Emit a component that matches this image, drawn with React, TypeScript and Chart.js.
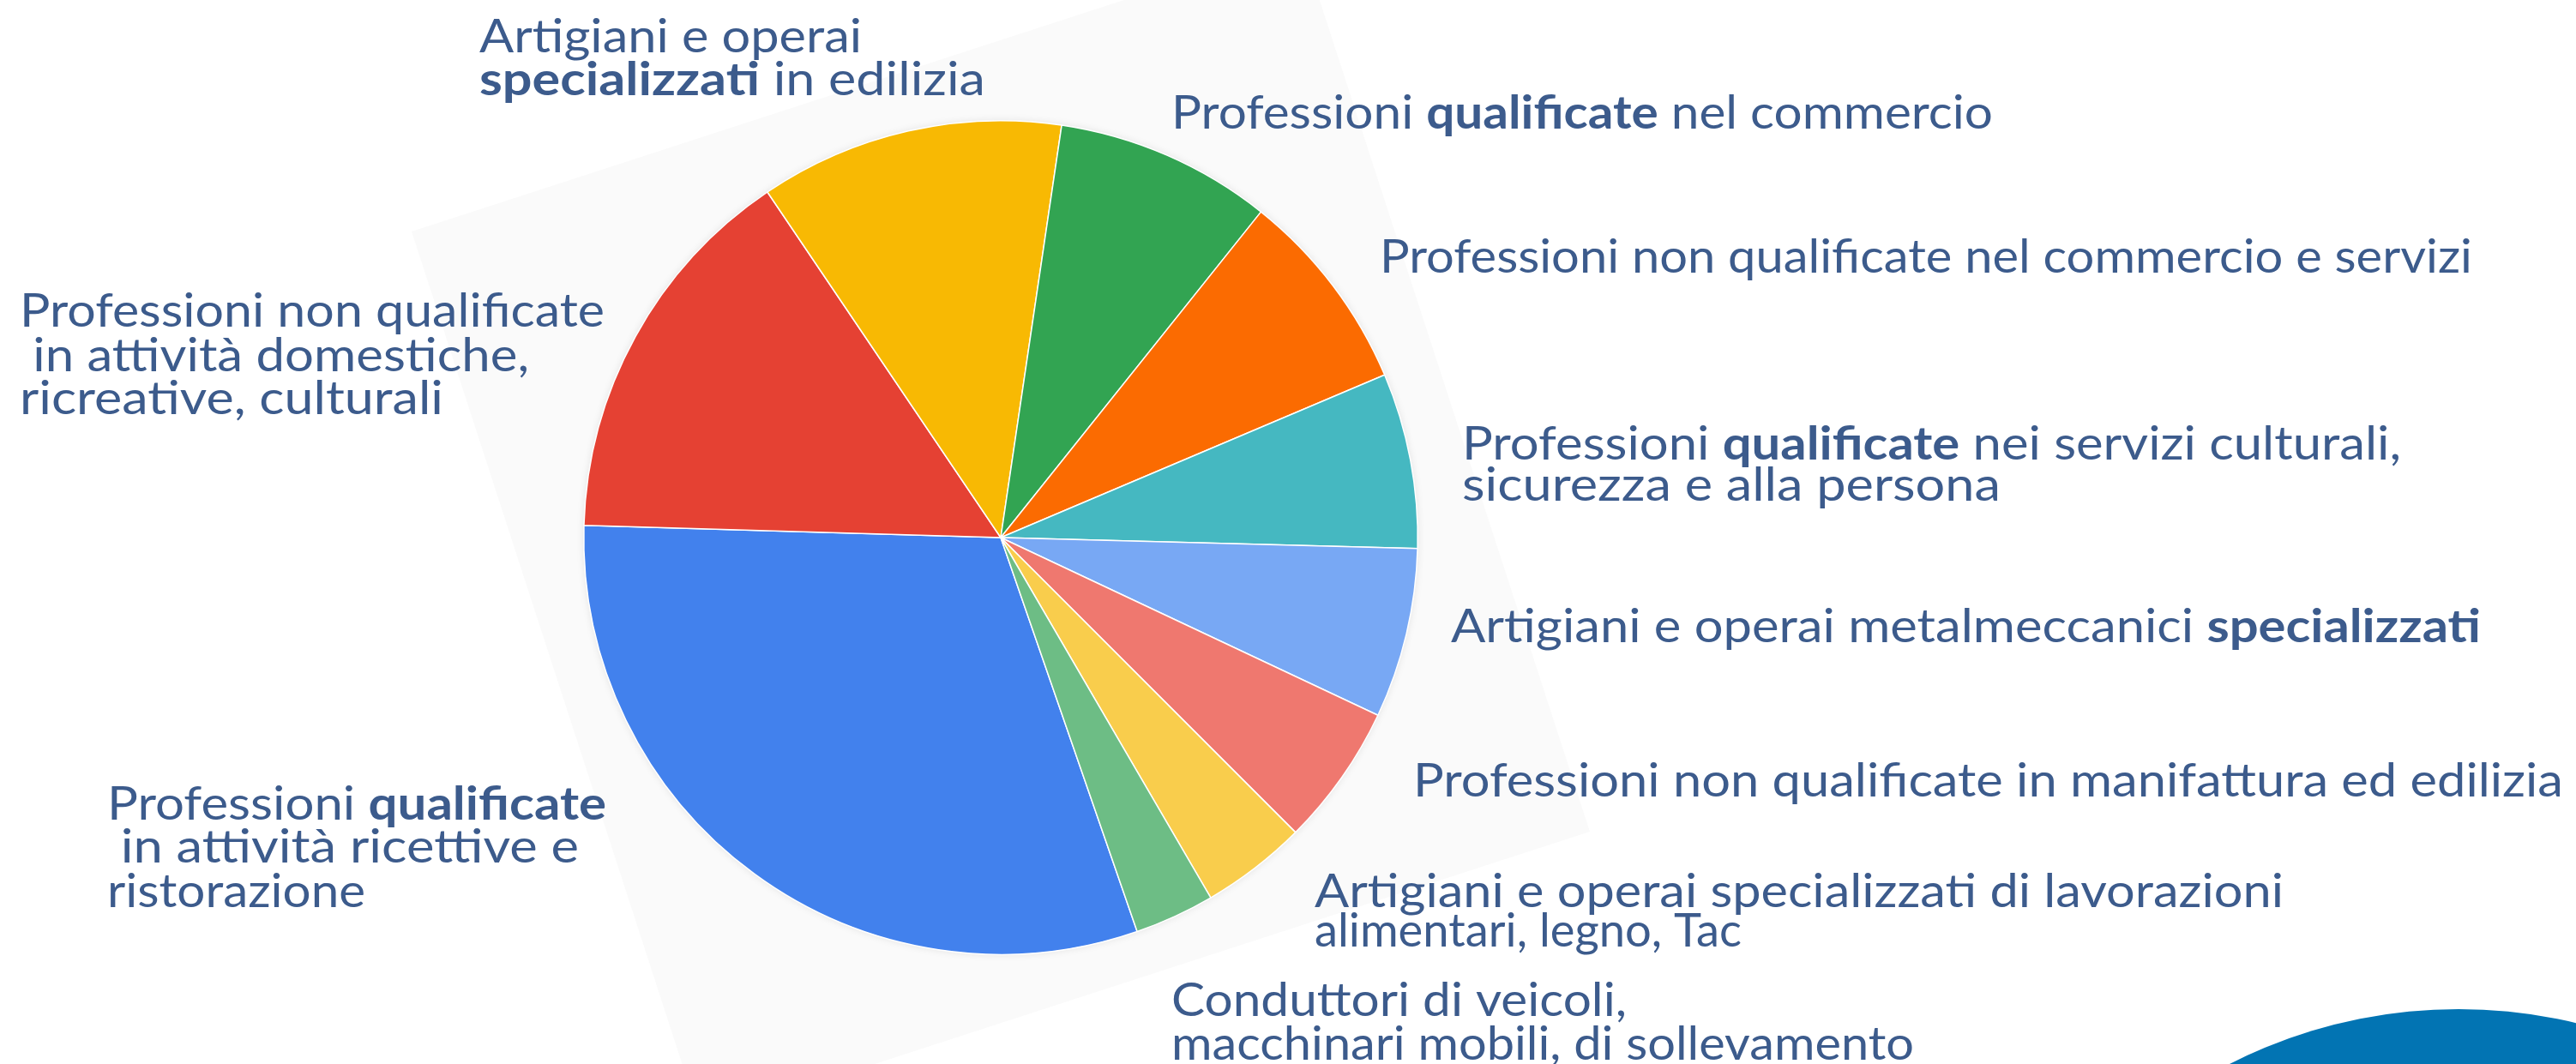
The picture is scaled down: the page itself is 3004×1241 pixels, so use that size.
import React, { useEffect, useRef } from "react";
import { Chart, registerables } from "chart.js";

Chart.register(...registerables);

// ---- data ----
const categories = [
  "Professioni qualificate in attività ricettive e ristorazione",
  "Professioni non qualificate in attività domestiche, ricreative, culturali",
  "Artigiani e operai specializzati in edilizia",
  "Professioni qualificate nel commercio",
  "Professioni non qualificate nel commercio e servizi",
  "Professioni qualificate nei servizi culturali, sicurezza e alla persona",
  "Artigiani e operai metalmeccanici specializzati",
  "Professioni non qualificate in manifattura ed edilizia",
  "Artigiani e operai specializzati di lavorazioni alimentari, legno, Tac",
  "Conduttori di veicoli, macchinari mobili, di sollevamento",
];

const values = [30.8, 15.1, 11.8, 8.4, 7.9, 6.8, 6.6, 5.5, 4.1, 3.1];

const sliceColors = [
  "#4281ED",
  "#E54133",
  "#F8B903",
  "#32A452",
  "#FB6B01",
  "#45B8C1",
  "#78A8F4",
  "#EF786F",
  "#F9CD4C",
  "#6DBD85",
];

// label text, one entry per category; **...** marks bold words
const labelLines: string[][] = [
  ["Professioni **qualificate**", " in attività ricettive e", "ristorazione"],
  ["Professioni non qualificate", " in attività domestiche,", "ricreative, culturali"],
  ["Artigiani e operai", "**specializzati** in edilizia"],
  ["Professioni **qualificate** nel commercio"],
  ["Professioni non qualificate nel commercio e servizi"],
  ["Professioni **qualificate** nei servizi culturali,", "sicurezza e alla persona"],
  ["Artigiani e operai metalmeccanici **specializzati**"],
  ["Professioni non qualificate in manifattura ed edilizia"],
  ["Artigiani e operai specializzati di lavorazioni", "alimentari, legno, Tac"],
  ["Conduttori di veicoli,", "macchinari mobili, di sollevamento"],
];

// ---- layout (page pixels) ----
const labelLayout = [
  { x: 125, baselines: [956, 1006, 1058], widths: [582, 550, 301] },
  { x: 23, baselines: [381, 433, 483], widths: [682, 594, 494] },
  { x: 559, baselines: [61, 111], widths: [446, 590] },
  { x: 1366, baselines: [150], widths: [958] },
  { x: 1609, baselines: [318], widths: [1274] },
  { x: 1705, baselines: [536, 584], widths: [1095, 628] },
  { x: 1692, baselines: [749], widths: [1201] },
  { x: 1648, baselines: [929], widths: [1341] },
  { x: 1533, baselines: [1058, 1104], widths: [1130, 498] },
  { x: 1366, baselines: [1185, 1236], widths: [531, 866] },
];

const W = 3004;
const H = 1241;
const TEXT_COLOR = "#3C5B8C";
const FONT_SIZE = 54;
const FONT_FAMILY = "Lato, 'Noto Sans', sans-serif";

function splitSegments(line: string): { text: string; bold: boolean }[] {
  const parts = line.split("**");
  return parts
    .map((t, i) => ({ text: t, bold: i % 2 === 1 }))
    .filter((s) => s.text.length > 0);
}

const backgroundPlugin = {
  id: "slideBackground",
  beforeDraw(chart: any) {
    const ctx = chart.ctx as CanvasRenderingContext2D;
    ctx.save();
    ctx.fillStyle = "#FFFFFF";
    ctx.fillRect(0, 0, W, H);
    // faint rotated panel behind the pie
    ctx.fillStyle = "#FAFAFA";
    ctx.beginPath();
    ctx.moveTo(480, 270);
    ctx.lineTo(1517, -67);
    ctx.lineTo(1854, 970);
    ctx.lineTo(817, 1307);
    ctx.closePath();
    ctx.fill();
    // blue decorative circle bottom-right
    ctx.fillStyle = "#0274B3";
    ctx.beginPath();
    ctx.arc(2867, 1766, 589, 0, Math.PI * 2);
    ctx.fill();
    ctx.restore();
  },
  beforeDatasetsDraw(chart: any) {
    // soft halo under the pie
    const meta = chart.getDatasetMeta(0);
    const arc = meta.data[0];
    if (!arc) return;
    const ctx = chart.ctx as CanvasRenderingContext2D;
    ctx.save();
    ctx.shadowColor = "rgba(0,0,0,0.10)";
    ctx.shadowBlur = 10;
    ctx.fillStyle = "#FFFFFF";
    ctx.beginPath();
    ctx.arc(arc.x, arc.y, arc.outerRadius, 0, Math.PI * 2);
    ctx.fill();
    ctx.restore();
  },
};

const labelsPlugin = {
  id: "sliceLabels",
  afterDraw(chart: any) {
    const ctx = chart.ctx as CanvasRenderingContext2D;
    ctx.save();
    ctx.fillStyle = TEXT_COLOR;
    ctx.textBaseline = "alphabetic";
    ctx.textAlign = "left";
    labelLines.forEach((lines, i) => {
      const lay = labelLayout[i];
      lines.forEach((line, j) => {
        const segs = splitSegments(line);
        let natural = 0;
        const widths = segs.map((s) => {
          ctx.font = `${s.bold ? "bold" : "normal"} ${FONT_SIZE}px ${FONT_FAMILY}`;
          const w = ctx.measureText(s.text).width;
          natural += w;
          return w;
        });
        const target = lay.widths[j];
        const sx = natural > 0 ? target / natural : 1;
        ctx.save();
        ctx.translate(lay.x, lay.baselines[j]);
        ctx.scale(sx, 1);
        let cx = 0;
        segs.forEach((s, k) => {
          ctx.font = `${s.bold ? "bold" : "normal"} ${FONT_SIZE}px ${FONT_FAMILY}`;
          ctx.fillText(s.text, cx, 0);
          cx += widths[k];
        });
        ctx.restore();
      });
    });
    ctx.restore();
  },
};

export default function App() {
  const canvasRef = useRef<HTMLCanvasElement | null>(null);

  useEffect(() => {
    document.body.style.margin = "0";
    document.body.style.overflow = "hidden";
    const canvas = canvasRef.current;
    if (!canvas) return;
    const chart = new Chart(canvas, {
      type: "pie",
      data: {
        labels: categories,
        datasets: [
          {
            data: values,
            backgroundColor: sliceColors,
            borderColor: "#FFFFFF",
            borderWidth: 1.5,
          },
        ],
      },
      options: {
        responsive: false,
        maintainAspectRatio: false,
        animation: false,
        events: [],
        rotation: 160.9,
        layout: {
          padding: { left: 680, right: 1350, top: 140, bottom: 127 },
        },
        plugins: {
          legend: { display: false },
          tooltip: { enabled: false },
        },
      },
      plugins: [backgroundPlugin, labelsPlugin],
    });
    return () => {
      chart.destroy();
    };
  }, []);

  return (
    <div style={{ position: "absolute", left: 0, top: 0, width: W, height: H }}>
      <canvas ref={canvasRef} width={W} height={H} style={{ width: W, height: H, display: "block" }} />
    </div>
  );
}
